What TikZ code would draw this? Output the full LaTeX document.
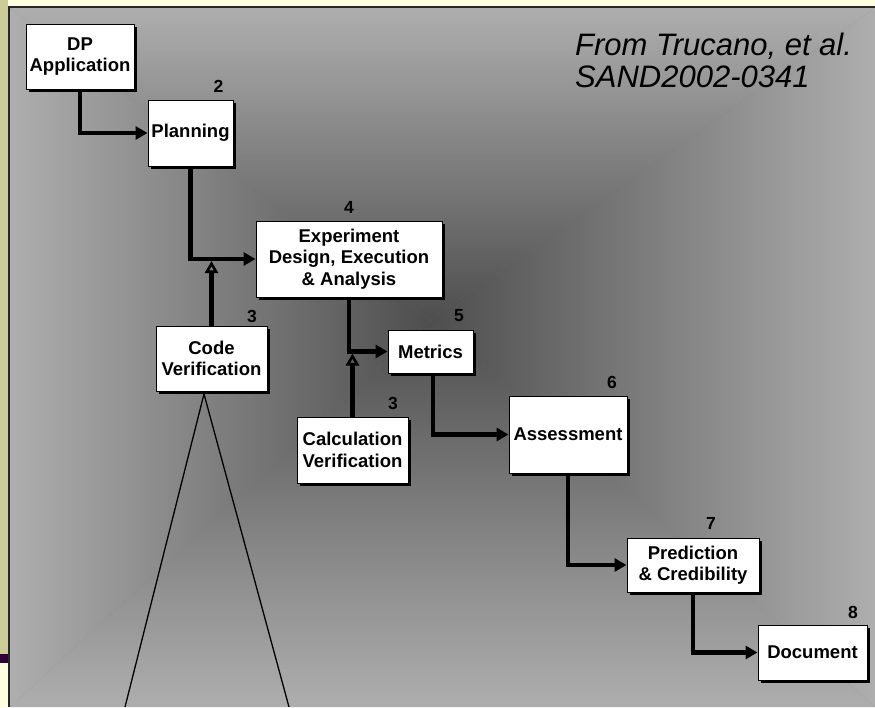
\documentclass[tikz,border=0pt]{standalone}
\usepackage{fontspec}
\setmainfont{Liberation Sans}
\usetikzlibrary{arrows.meta,shadows}
\definecolor{bgyellow}{HTML}{FFFFE0}
\definecolor{oliveband}{HTML}{CCCC99}
\definecolor{plumbar}{HTML}{330033}
\definecolor{gedge}{HTML}{AEAEAE}
\definecolor{gcenter}{HTML}{4E4E4E}
\begin{document}
\begin{tikzpicture}[x=1pt,y=-1pt,
  stepbox/.style={draw=black, line width=1pt, fill=white, inner sep=0pt, align=center,
    font=\fontsize{18.5}{21.5}\selectfont\bfseries,
    drop shadow={shadow xshift=3pt, shadow yshift=-3pt, fill=black, opacity=1}},
  numlabel/.style={font=\fontsize{17.5}{18}\selectfont\bfseries, inner sep=0pt},
  titletext/.style={font=\fontsize{31}{36}\selectfont\itshape, inner sep=0pt, anchor=base west},
  conn/.style={line width=4.2pt, line join=miter, -{Triangle[length=12pt,width=13pt]}},
  upconn/.style={line width=4.2pt, -{Triangle[open,length=12pt,width=13pt,line width=2.6pt]}},
  thinline/.style={line width=1.3pt}]
\useasboundingbox (0,0) rectangle (875,707);
% frame
\fill[bgyellow] (0,0) rectangle (875,707);
\fill[oliveband] (0,0) rectangle (7.5,654);
\fill[plumbar] (0,654) rectangle (7.5,663);
\fill[black!85] (8,6) rectangle (875,707);
% rectangular gradient background
\fill[gray] (10,8) rectangle (875,707);
\shade[top color=gedge, bottom color=gcenter] (10,8) -- (875,8) -- (430,320) -- cycle;
\shade[top color=gcenter, bottom color=gedge] (10,707) -- (875,707) -- (430,320) -- cycle;
\shade[left color=gedge, right color=gcenter] (10,8) -- (10,707) -- (430,320) -- cycle;
\shade[left color=gcenter, right color=gedge] (875,8) -- (875,707) -- (430,320) -- cycle;
% triangle under Code Verification
\coordinate (apex) at (204,394);
\coordinate (tl) at (125,707);
\coordinate (tr) at (289,707);
\draw[thinline] (tl) -- (apex) -- (tr);
% boxes
\node[stepbox, minimum width=108pt, minimum height=65pt] (dp) at (80,56.5) {DP\\Application};
\node[stepbox, minimum width=85pt, minimum height=66pt] (plan) at (190.5,133) {Planning};
\node[stepbox, minimum width=186pt, minimum height=76pt] (exp) at (349,259) {Experiment\\Design, Execution\\\& Analysis};
\node[stepbox, minimum width=111pt, minimum height=65pt] (cv) at (211.5,358.5) {Code\\Verification};
\node[stepbox, minimum width=85pt, minimum height=43pt] (met) at (430.5,351.5) {Metrics};
\node[stepbox, minimum width=111pt, minimum height=66pt] (calc) at (352.5,450) {Calculation\\Verification};
\node[stepbox, minimum width=118pt, minimum height=77pt] (ass) at (568,434.5) {Assessment};
\node[stepbox, minimum width=132pt, minimum height=54pt] (pred) at (693,565) {Prediction\\\& Credibility};
\node[stepbox, minimum width=109pt, minimum height=55pt] (doc) at (812.5,652.5) {Document};
% numbers
\node[numlabel] (n2) at (218.5,86) {2};
\node[numlabel] (n4) at (349,207) {4};
\node[numlabel] (n3a) at (252,316) {3};
\node[numlabel] (n5) at (459,316) {5};
\node[numlabel] (n3b) at (393,403) {3};
\node[numlabel] (n6) at (612,382) {6};
\node[numlabel] (n7) at (711,523) {7};
\node[numlabel] (n8) at (853,612) {8};
% title
\node[titletext] (t1) at (575,55) {From Trucano, et al.};
\node[titletext] (t2) at (575,87) {SAND2002-0341};
% connectors
\draw[conn] (dp.south) |- (plan.west);
\draw[conn] (plan.south) |- (exp.west);
\coordinate (j1) at (cv.north |- exp.west);
\draw[upconn] (cv.north) -- ([yshift=-2pt]j1);
\draw[conn] (exp.south) |- (met.west);
\coordinate (j2) at (calc.north |- met.west);
\draw[upconn] (calc.north) -- ([yshift=-2pt]j2);
\draw[conn] ([xshift=2.5pt]met.south) |- (ass.west);
\draw[conn] (ass.south) |- (pred.west);
\draw[conn] (pred.south) |- (doc.west);
\end{tikzpicture}
\end{document}
